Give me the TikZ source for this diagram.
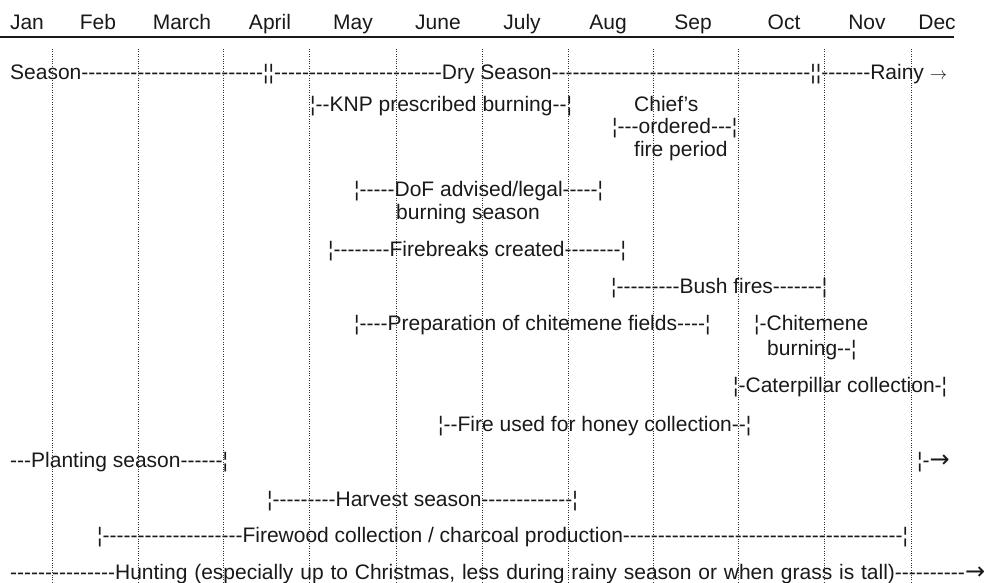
\documentclass[tikz,border=0pt]{standalone}
\usepackage{fontspec}
\newfontfamily\hv{Liberation Sans}
\newfontfamily\dv{DejaVu Sans}
\ExplSyntaxOn
\cs_new:Npn \dsh #1 {\prg_replicate:nn {#1} {-}}
\ExplSyntaxOff
\newcommand\bigarr{{\dv\fontsize{24}{24}\selectfont →}}
\tikzset{
  lbl/.style={anchor=base west, inner sep=0pt, font=\hv\fontsize{21}{25}\selectfont, text=black!90},
  mon/.style={anchor=base, inner sep=0pt, font=\hv\fontsize{21}{25}\selectfont, text=black!90},
  gridline/.style={line width=0.9pt, dash pattern=on 0.9pt off 1.5pt, black!80},
  rulestyle/.style={line width=2pt, black!90}
}
\begin{document}
\begin{tikzpicture}[x=1pt,y=-1pt]
\useasboundingbox (0,0) rectangle (996,583);
\foreach \x [count=\i] in {52,138,223,309,396,482,568,653,738,824,911} {
  \coordinate (t\i) at (\x,49);
  \coordinate (b\i) at (\x,583);
  \draw[gridline] (t\i) -- (b\i);
}
\coordinate (rl) at (0,37);
\coordinate (rr) at (954,37);
\draw[rulestyle] (rl) -- (rr);
\foreach \m/\x [count=\i] in {Jan/27,Feb/98,March/182,April/270,May/353,June/438,July/522,Aug/608,Sep/693,Oct/784,Nov/867,Dec/937}
  \node[mon] (m\i) at (\x,29.3) {\m};
\node[lbl] (season) at (10,80) {Season\dsh{26}¦¦\dsh{24}Dry Season\dsh{37}¦¦\dsh{7}Rainy {\fontsize{16}{16}\selectfont$\rightarrow$}};
\node[lbl] (knp) at (310,111.5) {¦--KNP prescribed burning--¦};
\node[lbl] (chief) at (634,111.5) {Chief’s};
\node[lbl] (ordered) at (612,133.5) {¦---ordered---¦};
\node[lbl] (fireperiod) at (634,157) {fire period};
\node[lbl] (dof) at (354,196) {¦-----DoF advised/legal-----¦};
\node[lbl] (burnseason) at (396,219.5) {burning season};
\node[lbl] (firebreaks) at (328,256) {¦\dsh{8}Firebreaks created\dsh{8}¦};
\node[lbl] (bush) at (611,293) {¦\dsh{9}Bush fires\dsh{7}¦};
\node[lbl] (prep) at (354,330) {¦\dsh{4}Preparation of chitemene fields\dsh{4}¦};
\node[lbl] (chit) at (754,330) {¦-Chitemene};
\node[lbl] (chitburn) at (767,355) {burning--¦};
\node[lbl] (cater) at (733,392.5) {¦-Caterpillar collection-¦};
\node[lbl] (honey) at (438,431) {¦--Fire used for honey collection--¦};
\node[lbl] (plant) at (10,467.5) {---Planting season\dsh{6}¦};
\node[lbl] (plantnext) at (917,467.5) {¦-\bigarr};
\node[lbl] (harvest) at (267,506.5) {¦\dsh{9}Harvest season\dsh{13}¦};
\node[lbl] (firewood) at (97,542.5) {¦\dsh{20}Firewood collection / charcoal production\dsh{40}¦};
\node[lbl] (hunting) at (10,579) {\spaceskip=6.85pt\dsh{15}Hunting (especially up to Christmas, less during rainy season or when grass is tall)\dsh{10}\bigarr};
\end{tikzpicture}
\end{document}
